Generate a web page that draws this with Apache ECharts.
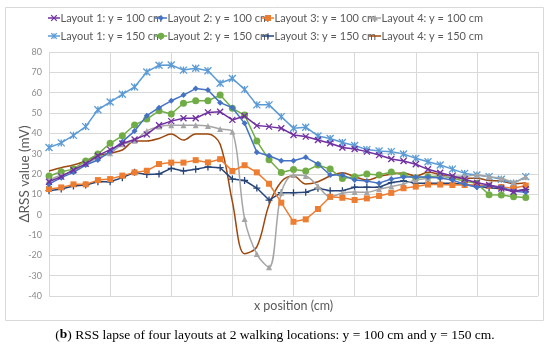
<!DOCTYPE html>
<html><head><meta charset="utf-8">
<script src="https://cdn.jsdelivr.net/npm/echarts@6/dist/echarts.min.js"></script>
<style>html,body{margin:0;padding:0;background:#fff}#c{width:550px;height:345px}</style>
</head><body><div id="c"></div>
<script>
var xPositions = [];
for (var k = 0; k < 40; k++) xPositions.push(k);
var yTicks = [-40, -30, -20, -10, 0, 10, 20, 30, 40, 50, 60, 70, 80];
var seriesNames = ['Layout 1: y = 100 cm','Layout 2: y = 100 cm','Layout 3: y = 100 cm','Layout 4: y = 100 cm',
                   'Layout 1: y = 150 cm','Layout 2: y = 150 cm','Layout 3: y = 150 cm','Layout 4: y = 150 cm'];
var L1_100 = [16.2,18.7,22,25,29,32,35,37,39.5,44,46,47.4,47.4,50.3,50.6,46.6,48.5,43.8,43.3,42.5,39.2,38.4,36.7,35.1,33,32.3,31,29.3,27.4,26.4,24.8,22.3,20.6,19,17.4,15.7,14.6,12.9,11.3,12.5];
var L2_100 = [15,18.2,20.8,24.4,26.9,31,35.9,41.1,48.7,52.6,56,58.8,62,61.3,55.1,52.6,44.9,30.7,29,26.5,26.5,28.2,24.9,19.5,19.5,17,16.5,15.5,17.5,18.5,18.5,18.5,18,17,15,13.5,14.5,13.5,11.5,11];
var L3_100 = [12.6,13.4,14.9,14.9,17,17.5,19.2,20.8,21.6,24.9,25.6,25.6,26.8,25.7,27.3,21.5,24.3,20.8,15.2,5.9,-3.5,-2.3,2.8,8.8,8.3,7.2,8,9.2,10.7,13,13.8,14.8,14.8,14.6,14.6,14.6,14.2,13.6,13,14.3];
var L4_100 = [17,19.5,21.5,25,28,30.2,34.6,36.3,41.2,43.3,44,44,44,43.6,42.1,40.8,-2.1,-19.4,-25.9,10.8,19.5,19,14,8.8,10.5,11.1,11,12.5,13.8,15.1,17,17.9,18.7,18.9,18.9,19.5,18.7,17.9,16.2,18.7];
var L1_150 = [33,35.3,39,43.3,51.6,55.4,59.2,62.8,70.2,73.5,73.6,71.1,72,70.8,64.6,67,61.6,54,54,48.2,42.5,43,38.7,37.5,35.5,34,32,31.3,31,29.8,27.7,26,24.4,22.4,20.3,19.5,18.7,17.4,15.4,18.7];
var L2_150 = [19,21.1,22.4,26.4,29.8,35.1,38.8,44.1,47,51.1,49.5,54.8,56,56,58.8,52.3,49,36.2,27,20.7,22.2,21.5,24.4,22.4,17.8,18.7,20,19.5,21,19.5,18,18.7,19,18,16.4,15.4,9.8,9.7,8.8,8.5];
var L3_150 = [11.8,12.6,14.1,14.6,16.2,16.2,18.2,20.8,19.8,20,22.8,21.5,22.3,23.5,23.1,17.5,16.8,13.1,7.2,10.8,10.8,11,13,11.8,11.8,13.5,13.5,13.5,15.8,16.6,15.5,15.5,15.4,15.4,14.8,14,13.2,12.8,11.6,12.3];
var L4_150 = [21.5,23.1,24.4,26.4,29,30.2,31.8,36.2,36.2,37.5,39.7,36.7,39.7,39.7,34.6,6.4,-19.2,-15.8,4.9,16.2,19,15.1,16.2,19,20.6,18.7,17,18.7,20,20.5,19,20.8,19.8,18.5,17.9,17.9,16.8,16.5,15.2,15.7];

var allData = [L1_100, L2_100, L3_100, L4_100, L1_150, L2_150, L3_150, L4_150];
var colors = ['#7030A0','#4472C4','#ED7D31','#A5A5A5','#5B9BD5','#70AD47','#264478','#9E480E'];
var markerKinds = ['x','diamond','rect','triangle','star','circle','plus','dash'];
var symbolPaths = {
  x: 'path://M0,0L10,10M10,0L0,10', star: 'path://M0,0L10,10M10,0L0,10M5,0L5,10',
  plus: 'path://M5,0L5,10M0,5L10,5', dash: 'path://M0,5L10,5',
  diamond: 'diamond', rect: 'rect', triangle: 'triangle', circle: 'circle'
};
var sizes = [6,6,6,6,7,7,7,5];
var strokeOnly = [true,false,false,false,true,false,true,true];
var smoothFlags = [false,false,false,0.35,false,false,false,0.35];

function pairs(arr){ return arr.map(function(v,i){ return [xPositions[i], v]; }); }

var series = allData.map(function(d, i){
  return {
    name: seriesNames[i], type: 'line', data: pairs(d),
    smooth: smoothFlags[i], symbol: symbolPaths[markerKinds[i]], symbolSize: sizes[i], showAllSymbol: true,
    lineStyle: { color: colors[i], width: 1.5 },
    itemStyle: strokeOnly[i] ? { color: colors[i], borderColor: colors[i], borderWidth: 1.3 } : { color: colors[i], borderWidth: 0 },
    z: 10 - i
  };
});

// legend drawn as graphic items (2 rows x 4)
function legendItem(i) {
  var col = i % 4, row = Math.floor(i / 4);
  var x0 = 48 + col * 107, y0 = 18 + row * 18, c = colors[i], cx = x0 + 6;
  var els = [{ type: 'line', shape: { x1: x0, y1: y0, x2: x0 + 12, y2: y0 }, style: { stroke: c, lineWidth: 1.5 } }];
  var k = markerKinds[i], r = 2.8;
  var st = { stroke: c, lineWidth: 1.2, fill: 'none' };
  if (k === 'x' || k === 'star') {
    els.push({ type: 'line', shape: { x1: cx - r, y1: y0 - r, x2: cx + r, y2: y0 + r }, style: st });
    els.push({ type: 'line', shape: { x1: cx - r, y1: y0 + r, x2: cx + r, y2: y0 - r }, style: st });
    if (k === 'star') els.push({ type: 'line', shape: { x1: cx, y1: y0 - r, x2: cx, y2: y0 + r }, style: st });
  } else if (k === 'plus') {
    els.push({ type: 'line', shape: { x1: cx, y1: y0 - r, x2: cx, y2: y0 + r }, style: st });
  } else if (k === 'diamond') {
    els.push({ type: 'polygon', shape: { points: [[cx, y0 - 3.2], [cx + 2.5, y0], [cx, y0 + 3.2], [cx - 2.5, y0]] }, style: { fill: c } });
  } else if (k === 'rect') {
    els.push({ type: 'rect', shape: { x: cx - 3, y: y0 - 3, width: 6, height: 6 }, style: { fill: c } });
  } else if (k === 'triangle') {
    els.push({ type: 'polygon', shape: { points: [[cx, y0 - 3], [cx + 3, y0 + 2.5], [cx - 3, y0 + 2.5]] }, style: { fill: c } });
  } else if (k === 'circle') {
    els.push({ type: 'circle', shape: { cx: cx, cy: y0, r: 3.2 }, style: { fill: c } });
  }
  els.push({ type: 'text', x: x0 + 12.5, y: y0, style: { text: seriesNames[i], fill: '#595959',
    font: '11px Lato', textVerticalAlign: 'middle', verticalAlign: 'middle' } });
  return { type: 'group', silent: true, children: els };
}
var legendGraphics = seriesNames.map(function(n, i){ return legendItem(i); });

var chart = echarts.init(document.getElementById('c'), null, { renderer: 'canvas' });
chart.setOption({
  animation: false,
  color: colors,
  grid: { left: 49, right: 12, top: 52, bottom: 49 },
  xAxis: {
    type: 'value', min: 0, max: 40, interval: 5,
    axisLabel: { show: false }, axisTick: { show: false },
    axisLine: { show: false },
    splitLine: { show: true, lineStyle: { color: '#d9d9d9', width: 1 } },
    name: 'x position (cm)', nameLocation: 'middle', nameGap: 3, nameMoveOverlap: false,
    nameTextStyle: { fontFamily: 'Lato', fontSize: 12.5, color: '#595959' }
  },
  yAxis: {
    type: 'value', min: yTicks[0], max: yTicks[yTicks.length-1], interval: 10,
    axisLabel: { fontFamily: 'Lato', fontSize: 9, color: '#8c8c8c', margin: 7 },
    axisTick: { show: false }, axisLine: { show: false },
    splitLine: { lineStyle: { color: '#d9d9d9', width: 1 } },
    name: 'ΔRSS value (mV)', nameLocation: 'middle', nameGap: 17, nameRotate: 90, nameMoveOverlap: false,
    nameTextStyle: { fontFamily: 'Lato', fontSize: 13.5, color: '#595959' }
  },
  title: {
    text: '{n|(}{bb|b}{n|) RSS lapse of four layouts at 2 walking locations: y = 100 cm and y = 150 cm.}',
    left: 'center', top: 323,
    textStyle: { fontWeight: 'normal', rich: {
      n: { fontFamily: 'Liberation Serif', fontSize: 13.5, color: '#000', fontWeight: 'normal' },
      bb: { fontFamily: 'Liberation Serif', fontSize: 13.5, color: '#000', fontWeight: 'bold' }
    } }
  },
  graphic: [{ type: 'rect', shape: { x: 5.5, y: 7.5, width: 538, height: 313 },
    style: { fill: 'none', stroke: '#d9d9d9', lineWidth: 1 }, silent: true, z: -1 }].concat(legendGraphics),
  series: series
});
</script></body></html>
